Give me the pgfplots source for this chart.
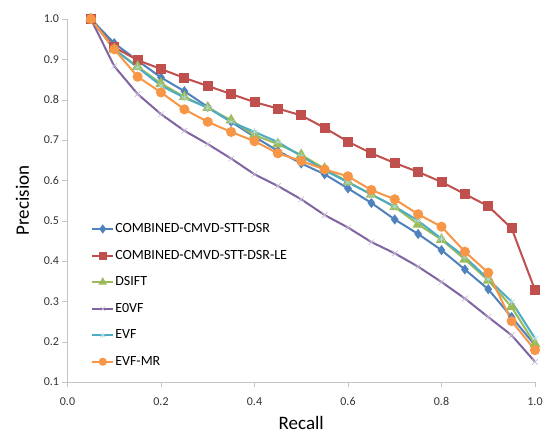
\documentclass[border=0pt]{standalone}
\usepackage{pgfplots}
\pgfplotsset{compat=1.18}
\usepackage{fontspec}
\setmainfont{Carlito}
\definecolor{xblue}{HTML}{4F81BD}
\definecolor{xred}{HTML}{C0504D}
\definecolor{xgreen}{HTML}{9BBB59}
\definecolor{xpurple}{HTML}{8064A2}
\definecolor{xcyan}{HTML}{4BACC6}
\definecolor{xorange}{HTML}{F79646}
\definecolor{axgray}{HTML}{C4C4C4}
\begin{document}
\begin{tikzpicture}
\path (-67.5pt,-51pt) rectangle (481.5pt,382pt);
\begin{axis}[scale only axis,width=467.5pt,height=363pt,
xmin=0,xmax=1,ymin=0.1,ymax=1.0,
xtick={0,0.2,...,1.0},ytick={0.1,0.2,...,1.0},
xticklabel style={yshift=-7pt,/pgf/number format/.cd,fixed,fixed zerofill,precision=1},
yticklabel style={/pgf/number format/.cd,fixed,fixed zerofill,precision=1},
/pgf/number format/assume math mode=true,
axis x line*=bottom,axis y line*=left,
axis line style={axgray,-},
tick align=outside,tick style={axgray,major tick length=5pt},
tick label style={font=\fontsize{12}{14}\selectfont,text=black!80},
xlabel={Recall},ylabel={Precision},
label style={font=\fontsize{19}{22}\selectfont},
xlabel style={yshift=-4pt},ylabel style={yshift=8pt},
legend style={draw=none,fill=none,at={(0.044,0.445)},anchor=north west,
  font=\fontsize{14}{16}\selectfont,row sep=14pt,nodes={inner sep=1pt}},
legend cell align=left,
legend image code/.code={\draw[mark repeat=2,mark phase=2,mark size=3pt] plot coordinates {(0pt,0pt) (10.5pt,0pt) (21pt,0pt)};},
every axis plot/.append style={line width=2pt},
]
\addplot[xblue,mark=diamond*,mark size=3.5pt,mark options={solid}] coordinates {
(0.05,1.0) (0.1,0.940) (0.15,0.897) (0.2,0.855) (0.25,0.821) (0.3,0.782) (0.35,0.745)
(0.4,0.708) (0.45,0.673) (0.5,0.642) (0.55,0.615) (0.6,0.580) (0.65,0.544) (0.7,0.503)
(0.75,0.467) (0.8,0.427) (0.85,0.379) (0.9,0.330) (0.95,0.261) (1.0,0.191)};
\addlegendentry{COMBINED-CMVD-STT-DSR}
\addplot[xred,mark=square*,mark size=4pt] coordinates {
(0.05,1.0) (0.1,0.930) (0.15,0.898) (0.2,0.876) (0.25,0.854) (0.3,0.834) (0.35,0.814)
(0.4,0.794) (0.45,0.778) (0.5,0.761) (0.55,0.730) (0.6,0.696) (0.65,0.667) (0.7,0.643)
(0.75,0.621) (0.8,0.596) (0.85,0.566) (0.9,0.536) (0.95,0.481) (1.0,0.328)};
\addlegendentry{COMBINED-CMVD-STT-DSR-LE}
\addplot[xgreen,mark=triangle*,mark size=4.5pt] coordinates {
(0.05,1.0) (0.1,0.925) (0.15,0.882) (0.2,0.840) (0.25,0.807) (0.3,0.780) (0.35,0.749)
(0.4,0.712) (0.45,0.690) (0.5,0.663) (0.55,0.629) (0.6,0.596) (0.65,0.565) (0.7,0.534)
(0.75,0.491) (0.8,0.453) (0.85,0.404) (0.9,0.352) (0.95,0.286) (1.0,0.194)};
\addlegendentry{DSIFT}
\addplot[xpurple,mark=x,mark size=4pt,mark options={line width=0.6pt,xpurple!45}] coordinates {
(0.05,1.0) (0.1,0.883) (0.15,0.814) (0.2,0.764) (0.25,0.723) (0.3,0.690) (0.35,0.654)
(0.4,0.615) (0.45,0.586) (0.5,0.553) (0.55,0.514) (0.6,0.483) (0.65,0.447) (0.7,0.419)
(0.75,0.386) (0.8,0.348) (0.85,0.307) (0.9,0.261) (0.95,0.216) (1.0,0.150)};
\addlegendentry{E0VF}
\addplot[xcyan,mark=asterisk,mark size=4pt,mark options={line width=0.6pt,xcyan!45}] coordinates {
(0.05,1.0) (0.1,0.925) (0.15,0.880) (0.2,0.835) (0.25,0.805) (0.3,0.780) (0.35,0.745)
(0.4,0.720) (0.45,0.695) (0.5,0.660) (0.55,0.625) (0.6,0.595) (0.65,0.565) (0.7,0.535)
(0.75,0.500) (0.8,0.455) (0.85,0.410) (0.9,0.355) (0.95,0.299) (1.0,0.208)};
\addlegendentry{EVF}
\addplot[xorange,mark=*,mark size=4pt] coordinates {
(0.05,1.0) (0.1,0.925) (0.15,0.857) (0.2,0.818) (0.25,0.776) (0.3,0.745) (0.35,0.720)
(0.4,0.697) (0.45,0.667) (0.5,0.648) (0.55,0.627) (0.6,0.610) (0.65,0.576) (0.7,0.553)
(0.75,0.516) (0.8,0.485) (0.85,0.423) (0.9,0.371) (0.95,0.251) (1.0,0.179)};
\addlegendentry{EVF-MR}
\end{axis}
\end{tikzpicture}
\end{document}
